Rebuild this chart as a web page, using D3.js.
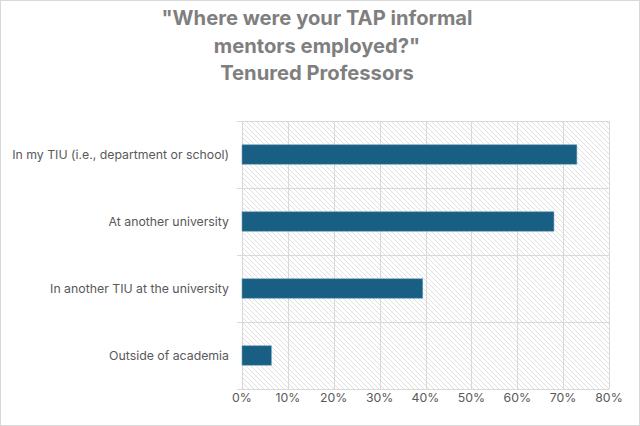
<!DOCTYPE html>
<html><head><meta charset="utf-8">
<script src="https://cdn.jsdelivr.net/npm/d3@7"></script>
<style>body{margin:0;background:#fff}svg{display:block}</style>
</head><body>
<svg id="c" width="640" height="426"></svg>
<script>
const categories = ["In my TIU (i.e., department or school)", "At another university", "In another TIU at the university", "Outside of academia"];
const values = [0.73, 0.68, 0.394, 0.064];
const xTicks = [0, 0.1, 0.2, 0.3, 0.4, 0.5, 0.6, 0.7, 0.8];
const titleLines = ["\"Where were your TAP informal", "mentors employed?\"", "Tenured Professors"];

const svg = d3.select("#c");
const W = 640, H = 426;
const m = {left: 242, right: 31, top: 121, bottom: 37};
const font = "Inter, 'Open Sans', sans-serif";

svg.append("rect").attr("x",0.5).attr("y",0.5).attr("width",W-1).attr("height",H-1)
  .attr("fill","#fff").attr("stroke","#d9d9d9");

const defs = svg.append("defs");
const pat = defs.append("pattern").attr("id","hatch").attr("patternUnits","userSpaceOnUse")
  .attr("width",5).attr("height",5);
pat.append("rect").attr("width",5).attr("height",5).attr("fill","#fff");
pat.append("path").attr("d","M-1,-1 L6,6 M-1,4 L1,6 M4,-1 L6,1").attr("stroke","#e0e0e0").attr("stroke-width",1);

const x = d3.scaleLinear().domain([0,0.8]).range([m.left, W-m.right]);
const y = d3.scaleBand().domain(categories).range([m.top, H-m.bottom]).paddingInner(0.71).paddingOuter(0.355);
const yb = d3.scaleBand().domain(categories).range([m.top, H-m.bottom]);

svg.append("rect").attr("x",x(0)).attr("y",m.top).attr("width",x(0.8)-x(0)).attr("height",H-m.bottom-m.top)
  .attr("fill","url(#hatch)");

svg.append("g").selectAll("line").data(xTicks).join("line")
  .attr("x1",d=>Math.round(x(d))+0.5).attr("x2",d=>Math.round(x(d))+0.5)
  .attr("y1",m.top).attr("y2",H-m.bottom).attr("stroke","#d9d9d9");
const bounds = categories.map(c=>yb(c)).concat([H-m.bottom]);
svg.append("g").selectAll("line").data(bounds).join("line")
  .attr("x1",m.left-5).attr("x2",x(0.8)).attr("y1",d=>Math.round(d)+0.5).attr("y2",d=>Math.round(d)+0.5)
  .attr("stroke","#d9d9d9");

svg.append("g").selectAll("rect").data(categories).join("rect")
  .attr("x",x(0)).attr("y",d=>y(d)).attr("width",(d,i)=>x(values[i])-x(0)).attr("height",y.bandwidth())
  .attr("fill","#185f83").attr("stroke","#6f9fba").attr("stroke-width",0.6);

svg.append("g").selectAll("text").data(categories).join("text")
  .attr("x",229).attr("y",d=>yb(d)+yb.bandwidth()/2).attr("dy","0.35em")
  .attr("text-anchor","end").attr("font-family",font).attr("font-size",12.3).attr("fill","#595959")
  .text(d=>d);

svg.append("g").selectAll("text").data(xTicks).join("text")
  .attr("x",d=>x(d)).attr("y",402).attr("text-anchor","middle")
  .attr("font-family",font).attr("font-size",12.3).attr("fill","#595959")
  .text(d=>d3.format(".0%")(d));

svg.append("g").selectAll("text").data(titleLines).join("text")
  .attr("x",317).attr("y",(d,i)=>25+i*27.5).attr("text-anchor","middle")
  .attr("font-family",font).attr("font-weight","bold").attr("font-size",20.2).attr("fill","#7f7f7f")
  .text(d=>d);
</script>
</body></html>
